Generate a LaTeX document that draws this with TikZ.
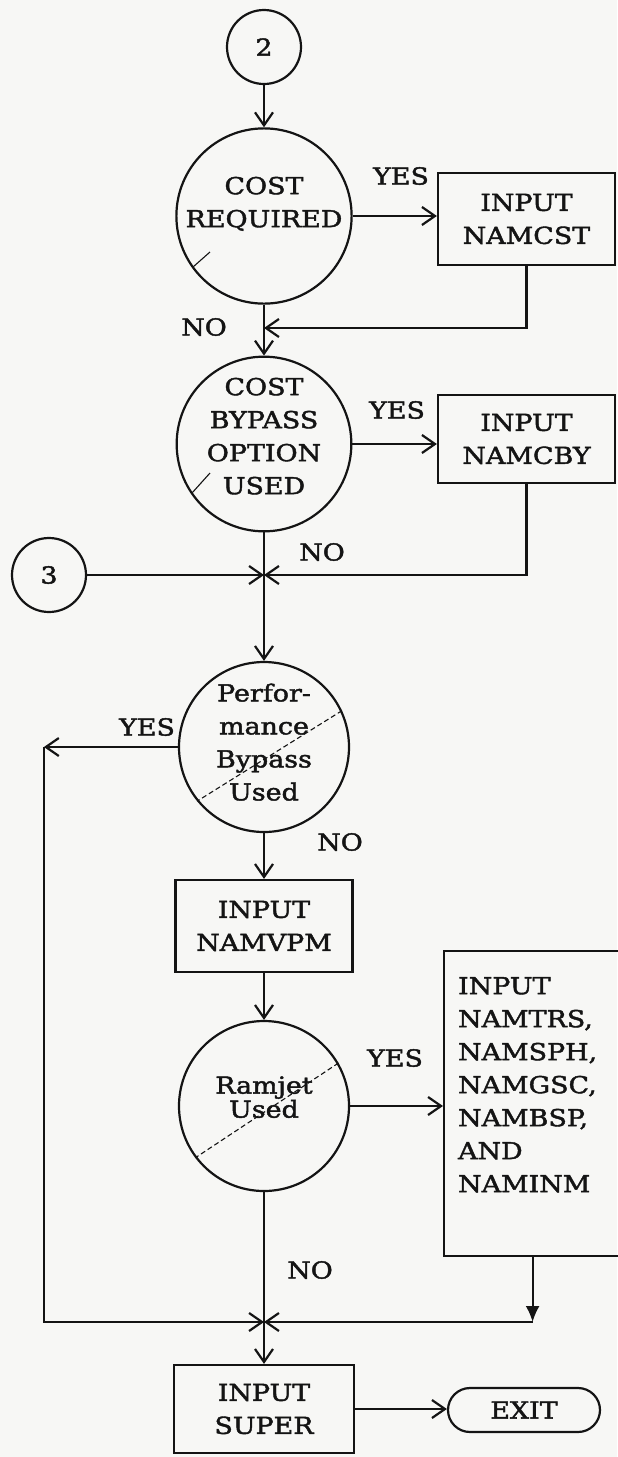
\documentclass[tikz,border=0pt]{standalone}
\usepackage{fontspec}
\setmainfont[FakeStretch=1.15,FakeBold=1.8]{DejaVu Serif}
\usetikzlibrary{arrows.meta,shapes.misc}
\definecolor{ink}{HTML}{141414}
\definecolor{paper}{HTML}{F7F7F5}
\tikzset{
  >={Straight Barb[length=6.5pt,width=9pt]},
  every node/.style={font=\fontsize{11.7}{16.5}\selectfont, text=ink},
  dec/.style={draw=ink, line width=1.1pt, circle, inner sep=0pt, minimum size=85pt, align=center},
  conn/.style={draw=ink, line width=1.1pt, circle, inner sep=0pt, minimum size=37pt},
  block/.style={draw=ink, line width=1.1pt, rectangle, inner sep=0pt, align=center,
                minimum width=88.5pt, minimum height=45pt},
  term/.style={draw=ink, line width=1.1pt, rounded rectangle, inner sep=0pt,
               minimum width=76pt, minimum height=22pt},
  ans/.style={inner sep=0pt},
  l/.style={->, draw=ink, line width=1.1pt},
  slash/.style={draw=ink, line width=0.55pt, dash pattern=on 2.5pt off 1.5pt},
  stub/.style={draw=ink, line width=0.55pt},
}
\begin{document}
\begin{tikzpicture}[x=0.5pt,y=-0.5pt]
  \fill[paper] (0,0) rectangle (617,1457);
  \useasboundingbox (0,0) rectangle (617,1457);
  % main column
  \node[conn] (c2) at (264,47) {2};
  \node[dec, text depth=14pt] (costreq) at (264,216) {COST\\REQUIRED};
  \node[dec, text depth=8pt] (costbyp) at (264,444) {COST\\BYPASS\\OPTION\\USED};
  \node[dec, text depth=5pt] (perf) at (264,747) {Perfor-\\mance\\Bypass\\Used};
  \node[block, minimum height=46pt] (namvpm) at (264,926) {INPUT\\NAMVPM};
  \node[dec, text depth=9pt, font=\fontsize{11.7}{12}\selectfont] (ramjet) at (264,1106) {Ramjet\\Used};
  \node[block, minimum width=90pt, minimum height=44pt] (super) at (264,1409) {INPUT\\SUPER};
  % right column
  \node[block, minimum height=46pt] (namcst) at (526.5,219) {INPUT\\NAMCST};
  \node[block, minimum height=44pt] (namcby) at (526.5,439) {INPUT\\NAMCBY};
  \node[block, anchor=north west, inner xsep=6pt, inner ysep=0pt] (namtrs) at (443,950)
    {\parbox[c][152.5pt][t]{74.5pt}{\raggedright\vspace*{13pt}INPUT\\NAMTRS,\\NAMSPH,\\NAMGSC,\\NAMBSP,\\AND\\NAMINM}};
  \node[term] (exit) at (524,1410) {EXIT};
  \node[conn] (c3) at (49,575) {3};
  % answers
  \node[ans] (yes1) at (401,176) {YES};
  \node[ans] (no1) at (204,327) {NO};
  \node[ans] (yes2) at (397,410) {YES};
  \node[ans] (no2) at (322,552) {NO};
  \node[ans] (yes3) at (147,727) {YES};
  \node[ans] (no3) at (340,842) {NO};
  \node[ans] (yes4) at (395,1058) {YES};
  \node[ans] (no4) at (310,1270) {NO};
  % joins
  \coordinate (m1) at (264,328);
  \coordinate (j1) at (264,575);
  \coordinate (j2) at (264,1322);
  \draw[l] (c2) -- (costreq);
  \draw[l] (costreq.east) -- (costreq.east -| namcst.west);
  \draw[l] (namcst.south) |- (m1);
  \draw[l] (costreq) -- (costbyp);
  \draw[l] (costbyp.east) -- (costbyp.east -| namcby.west);
  \draw[l] (namcby.south) |- (j1);
  \draw[l] (c3) -- (j1);
  \draw[l] (costbyp) -- (perf);
  \draw[l] (perf.west) -- ++(-134,0) coordinate (yl);
  \draw[l] (yl) |- (j2);
  \draw[l] (perf) -- (namvpm);
  \draw[l] (namvpm) -- (ramjet);
  \draw[l] (ramjet.east) -- (ramjet.east -| namtrs.west);
  \draw[l, -{Latex[length=8pt,width=7pt]}] (namtrs.south) -- (namtrs.south |- j2);
  \draw[l] (namtrs.south |- j2) -- (j2);
  \draw[l] (ramjet) -- (super);
  \draw[l] (super.east) -- (super.east -| exit.west);
  % marks in the circles
  \draw[slash] (perf.25) -- (perf.219);
  \draw[slash] (ramjet.30) -- (ramjet.217);
  \draw[stub] (193,267) -- (210,252);
  \draw[stub] (192,493) -- (210,473);
\end{tikzpicture}
\end{document}
